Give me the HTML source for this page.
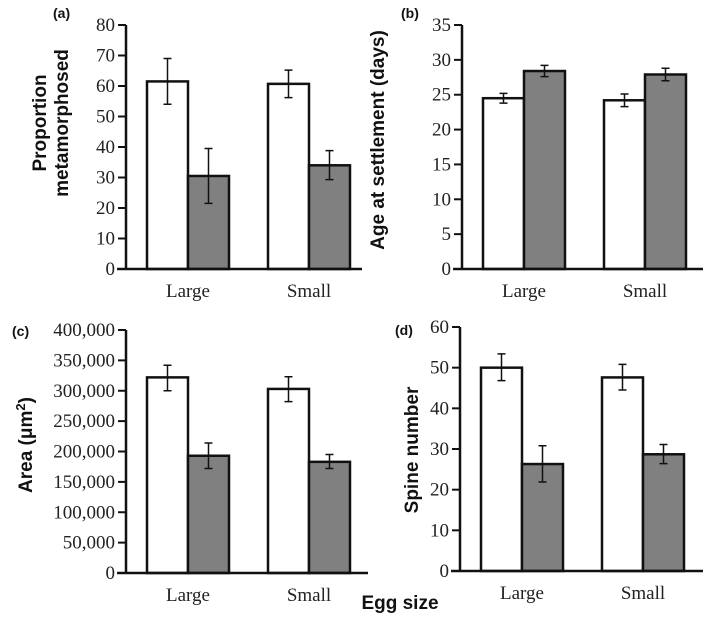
<!DOCTYPE html>
<html><head><meta charset="utf-8"><style>
body{margin:0;background:#fff;}
svg{display:block;}
.tk{font-family:"Liberation Serif",serif;font-size:19px;fill:#222;}
.tt{font-family:"Liberation Sans",sans-serif;font-weight:bold;font-size:19px;fill:#111;}
.pl{font-family:"Liberation Sans",sans-serif;font-weight:bold;font-size:14px;fill:#111;}
</style></head><body>
<svg id="fig" width="709" height="619"></svg>
<script>
const categories=["Large","Small"];
const aWhite=[61.5,60.7], aWhiteLo=[54,56.2], aWhiteHi=[69,65.2];
const aGrey=[30.5,34], aGreyLo=[21.5,29.3], aGreyHi=[39.5,38.8];
const aTicks=[0,10,20,30,40,50,60,70,80];
const bWhite=[24.5,24.2], bWhiteLo=[23.8,23.3], bWhiteHi=[25.2,25.1];
const bGrey=[28.4,27.9], bGreyLo=[27.6,27.0], bGreyHi=[29.2,28.8];
const bTicks=[0,5,10,15,20,25,30,35];
const cWhite=[322000,303000], cWhiteLo=[300000,282000], cWhiteHi=[342000,323000];
const cGrey=[193000,183000], cGreyLo=[172000,172000], cGreyHi=[214000,195000];
const cTicks=[0,50000,100000,150000,200000,250000,300000,350000,400000];
const dWhite=[50,47.6], dWhiteLo=[46.8,44.5], dWhiteHi=[53.4,50.8];
const dGrey=[26.3,28.7], dGreyLo=[21.9,26.4], dGreyHi=[30.8,31.1];
const dTicks=[0,10,20,30,40,50,60];

const NS="http://www.w3.org/2000/svg";
const svg=document.getElementById('fig');
function mk(tag,attrs,parent,text){const e=document.createElementNS(NS,tag);for(const k in attrs)e.setAttribute(k,attrs[k]);if(text!==undefined)e.textContent=text;(parent||svg).appendChild(e);return e;}

function panel(p){
  const g=mk('g',{});
  
  
  const max=p.ticks[p.ticks.length-1];
  const y=v=>p.y0-(v/max)*(p.y0-p.yTop);
  const bw=41;
  const groupX=[p.ax+21,p.ax+142];
  for(let i=0;i<2;i++){
    const series=[[p.w,p.wl,p.wh,'#fff','white'],[p.g,p.gl,p.gh,'#808080','grey']];
    series.forEach((s,j)=>{
      const x=groupX[i]+j*bw;
      const r=mk('rect',{x:x,y:y(s[0][i]),width:bw,height:p.y0-y(s[0][i]),fill:s[3],stroke:'#111','stroke-width':2.5},g);
      
      
      const cx=x+bw/2;
      const eb=mk('path',{d:`M${cx},${y(s[1][i])}V${y(s[2][i])}M${cx-4},${y(s[1][i])}H${cx+4}M${cx-4},${y(s[2][i])}H${cx+4}`,stroke:'#111','stroke-width':1.5,fill:'none'},g);
      
      
    });
    const t=mk('text',{x:groupX[i]+bw,y:p.y0+28,'text-anchor':'middle',class:'tk'},g,categories[i]);
    
    
  }
  const ax=mk('path',{d:`M${p.ax},${p.yTop}V${p.y0}M${p.ax-9},${p.y0}H${p.xEnd}`,stroke:'#111','stroke-width':2.5,fill:'none'},g);
  
  
  p.ticks.forEach(v=>{
    mk('line',{x1:p.ax-8,x2:p.ax,y1:y(v),y2:y(v),stroke:'#111','stroke-width':2},g);
    const t=mk('text',{x:p.ax-11,y:y(v)+6,'text-anchor':'end',class:'tk'},g,p.fmt?v.toLocaleString('en-US'):String(v));
    
    
  });
  const pl=mk('text',{x:p.lx,y:p.ly,class:'pl'},g,p.label);
  
  
  return {g,y};
}

panel({name:'panel-a',ax:126,yTop:25,y0:269,xEnd:362,ticks:aTicks,w:aWhite,wl:aWhiteLo,wh:aWhiteHi,g:aGrey,gl:aGreyLo,gh:aGreyHi,label:'(a)',lx:53,ly:18});
panel({name:'panel-b',ax:462,yTop:25,y0:269,xEnd:703,ticks:bTicks,w:bWhite,wl:bWhiteLo,wh:bWhiteHi,g:bGrey,gl:bGreyLo,gh:bGreyHi,label:'(b)',lx:401,ly:18});
panel({name:'panel-c',ax:126,yTop:330,y0:573,xEnd:368,ticks:cTicks,fmt:true,w:cWhite,wl:cWhiteLo,wh:cWhiteHi,g:cGrey,gl:cGreyLo,gh:cGreyHi,label:'(c)',lx:12,ly:336});
panel({name:'panel-d',ax:460,yTop:327,y0:571,xEnd:703,ticks:dTicks,w:dWhite,wl:dWhiteLo,wh:dWhiteHi,g:dGrey,gl:dGreyLo,gh:dGreyHi,label:'(d)',lx:395,ly:335});

function vtitle(x,y,lines,name){
  const t=mk('text',{transform:`translate(${x},${y}) rotate(-90)`,'text-anchor':'middle',class:'tt'});
  
  
  lines.forEach((l,i)=>{mk('tspan',{x:0,dy:i?22:0},t,l);});
}
vtitle(46,123,['Proportion','metamorphosed'],'y-axis-title-a');
vtitle(384,140,['Age at settlement (days)'],'y-axis-title-b');
const ct=mk('text',{transform:'translate(32,445) rotate(-90)','text-anchor':'middle',class:'tt'});


mk('tspan',{},ct,'Area (μm');mk('tspan',{dy:-7,'font-size':13},ct,'2');mk('tspan',{dy:7},ct,')');
vtitle(418,450,['Spine number'],'y-axis-title-d');
const xt=mk('text',{x:400,y:609,'text-anchor':'middle',class:'tt'},svg,'Egg size');


</script>
</body></html>
